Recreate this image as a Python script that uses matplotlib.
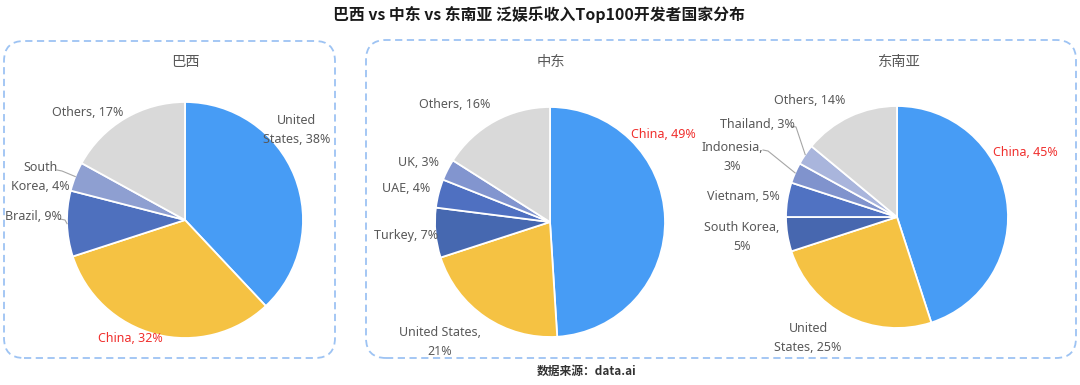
import matplotlib
matplotlib.use("Agg")
import matplotlib.pyplot as plt
from matplotlib.patches import FancyBboxPatch
import numpy as np

plt.rcParams['font.family'] = ['Noto Sans', 'Noto Sans CJK SC', 'DejaVu Sans']

# ---------------- data ----------------
title = "巴西 vs 中东 vs 东南亚 泛娱乐收入Top100开发者国家分布"
source = "数据来源：data.ai"

br_title = "巴西"
br_labels = ["United States", "China", "Brazil", "South Korea", "Others"]
br_values = [38, 32, 9, 4, 17]

me_title = "中东"
me_labels = ["China", "United States", "Turkey", "UAE", "UK", "Others"]
me_values = [49, 21, 7, 4, 3, 16]

sea_title = "东南亚"
sea_labels = ["China", "United States", "South Korea", "Vietnam", "Indonesia", "Thailand", "Others"]
sea_values = [45, 25, 5, 5, 3, 3, 14]

# ---------------- styles / layout ----------------
W, H = 1080, 385
BLUE = "#479CF5"
YELLOW = "#F5C243"
GRAY = "#D9D9D9"
TXT = "#595959"
RED = "#F0302E"

br_colors = [BLUE, YELLOW, "#4E70BE", "#8E9FD1", GRAY]
me_colors = [BLUE, YELLOW, "#4668B0", "#4F70C1", "#8295CF", GRAY]
sea_colors = [BLUE, YELLOW, "#4767AF", "#5072C2", "#8093CD", "#A9B5DC", GRAY]

# pixel layout (x, y from top)
pies = [
    dict(title=br_title, labels=br_labels, values=br_values, colors=br_colors,
         center=(185, 220), r=118, title_pos=(185, 62),
         text={"United States": ((297, 130), "United\nStates, {}%"),
               "China": ((130, 338), "China, {}%"),
               "Brazil": ((33, 217), "Brazil, {}%"),
               "South Korea": ((40, 177), "South\nKorea, {}%"),
               "Others": ((88, 113), "Others, {}%")},
         leaders={"Brazil": (60, 219), "South Korea": (57, 170)}),
    dict(title=me_title, labels=me_labels, values=me_values, colors=me_colors,
         center=(550, 222), r=115, title_pos=(551, 62),
         text={"China": ((663, 135), "China, {}%"),
               "United States": ((440, 342), "United States,\n{}%"),
               "Turkey": ((406, 235), "Turkey, {}%"),
               "UAE": ((406, 189), "UAE, {}%"),
               "UK": ((418, 162), "UK, {}%"),
               "Others": ((455, 105), "Others, {}%")},
         leaders={}),
    dict(title=sea_title, labels=sea_labels, values=sea_values, colors=sea_colors,
         center=(897, 217), r=111, title_pos=(899, 62),
         text={"China": ((1025, 153), "China, {}%"),
               "United States": ((808, 338), "United\nStates, {}%"),
               "South Korea": ((742, 237), "South Korea,\n{}%"),
               "Vietnam": ((743, 197), "Vietnam, {}%"),
               "Indonesia": ((732, 157), "Indonesia,\n{}%"),
               "Thailand": ((757, 124), "Thailand, {}%"),
               "Others": ((810, 101), "Others, {}%")},
         leaders={"Indonesia": (763, 150), "Thailand": (791, 126)}),
]

fig = plt.figure(figsize=(W / 100, H / 100), dpi=100)
ax = fig.add_axes([0, 0, 1, 1])

def Y(y):
    return H - y

for p in pies:
    cx, cy = p["center"]
    ax.pie(p["values"], colors=p["colors"], startangle=90, counterclock=False,
           center=(cx, Y(cy)), radius=p["r"],
           wedgeprops=dict(edgecolor="white", linewidth=1.3))
    total = float(sum(p["values"]))
    cum = 0.0
    for lab, v in zip(p["labels"], p["values"]):
        mid = (cum + v / 2) / total * 360.0
        cum += v
        theta = np.deg2rad(90 - mid)
        (tx, ty), fmt = p["text"][lab]
        color = RED if lab == "China" else TXT
        ax.text(tx, Y(ty), fmt.format(v), ha="center", va="center", fontsize=9,
                color=color, linespacing=1.55)
        if lab in p["leaders"]:
            lx, ly = p["leaders"][lab]
            ex = cx + p["r"] * np.cos(theta)
            ey = cy - p["r"] * np.sin(theta)
            ax.plot([lx, lx + 5, ex], [Y(ly), Y(ly + 1), Y(ey)], color="#A6A6A6", lw=0.8)
    tx, ty = p["title_pos"]
    ax.text(tx, Y(ty), p["title"], ha="center", va="center", fontsize=10.3,
            color=TXT, family=["Noto Sans CJK SC", "DejaVu Sans"])

# boxes
for (x0, y0, x1, y1) in [(4, 41, 335, 358), (366, 40, 1076, 358)]:
    box = FancyBboxPatch((x0, Y(y1)), x1 - x0, y1 - y0,
                         boxstyle="round,pad=0,rounding_size=20",
                         fill=False, edgecolor="#9DC3F3", linewidth=1.3,
                         linestyle=(0, (4, 2.5)))
    ax.add_patch(box)

ax.text(539, Y(14), title, ha="center", va="center", fontsize=11.4, fontweight="bold",
        color="#1A1A1A", family=["Noto Sans CJK SC", "DejaVu Sans"])
ax.text(587, Y(371), source, ha="center", va="center", fontsize=8.5, fontweight="bold",
        color="#333333", family=["Noto Sans CJK SC", "DejaVu Sans"])

ax.set_xlim(0, W)
ax.set_ylim(0, H)
ax.set_aspect("auto")
ax.axis("off")

fig.savefig("out.png", dpi=100, facecolor="white")
